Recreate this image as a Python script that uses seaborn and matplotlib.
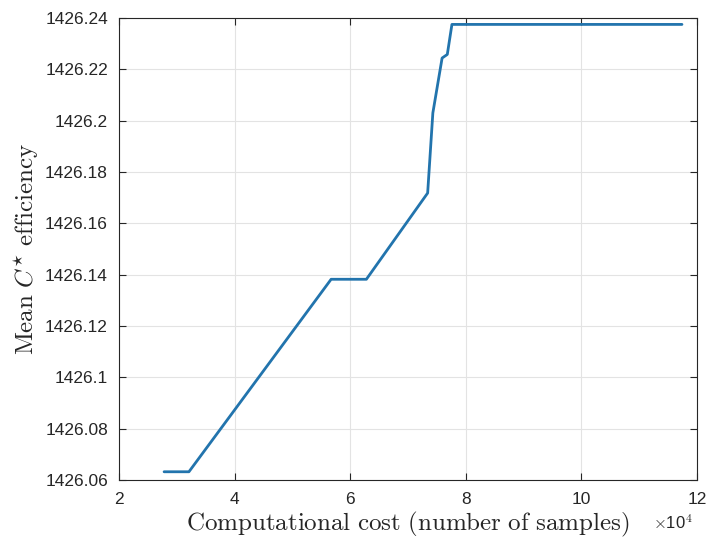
import matplotlib
matplotlib.use("Agg")
import matplotlib.pyplot as plt
import seaborn as sns
import pandas as pd

cost_1e4 = [2.78, 3.21, 5.67, 6.28, 7.34, 7.43, 7.59, 7.68, 7.76, 11.74]
efficiency = [1426.0632, 1426.0632, 1426.1382, 1426.1382, 1426.1718, 1426.2030,
              1426.2244, 1426.2258, 1426.2375, 1426.2375]
xticks = [2, 4, 6, 8, 10, 12]
yticks = [1426.06, 1426.08, 1426.1, 1426.12, 1426.14, 1426.16, 1426.18, 1426.2, 1426.22, 1426.24]
ytick_labels = ["1426.06", "1426.08", "1426.1", "1426.12", "1426.14", "1426.16",
                "1426.18", "1426.2", "1426.22", "1426.24"]

sns.set_theme(style="whitegrid")
plt.rcParams["font.family"] = ["Liberation Sans", "DejaVu Sans"]
plt.rcParams["mathtext.fontset"] = "cm"

df = pd.DataFrame({"cost": cost_1e4, "eff": efficiency})

fig = plt.figure(figsize=(7.19, 5.39), dpi=100)
ax = fig.add_axes([0.1655, 0.1095, 0.8039, 0.8571])
sns.lineplot(data=df, x="cost", y="eff", ax=ax, color="#2274ad", linewidth=2.0, sort=False)

ax.set_xlim(2, 12)
ax.set_ylim(1426.06, 1426.24)
ax.set_xticks(xticks)
ax.set_xticklabels([str(t) for t in xticks])
ax.set_yticks(yticks)
ax.set_yticklabels(ytick_labels)
ax.tick_params(direction="in", length=5, width=0.8, colors="#262626", labelsize=12.5,
               top=True, right=True, bottom=True, left=True, labelcolor="#262626")
ax.tick_params(axis="y", pad=8)
ax.tick_params(axis="x", pad=9)
ax.grid(True, color="#e3e3e3", linewidth=0.8)
for s in ax.spines.values():
    s.set_color("#262626")
    s.set_linewidth(0.8)
    s.set_visible(True)
ax.set_facecolor("white")

ax.set_xlabel(r"$\mathrm{Computational\ cost\ (number\ of\ samples)}$", fontsize=18, color="#262626", labelpad=2)
ax.set_ylabel(r"$\mathrm{Mean}\ C^{\star}\ \mathrm{efficiency}$", fontsize=18, color="#262626", labelpad=3)
ax.text(0.993, -0.073, r"$\times$10$^{4}$", transform=ax.transAxes, fontsize=12,
        color="#262626", ha="right", va="top")

fig.savefig("out.png", dpi=100)
